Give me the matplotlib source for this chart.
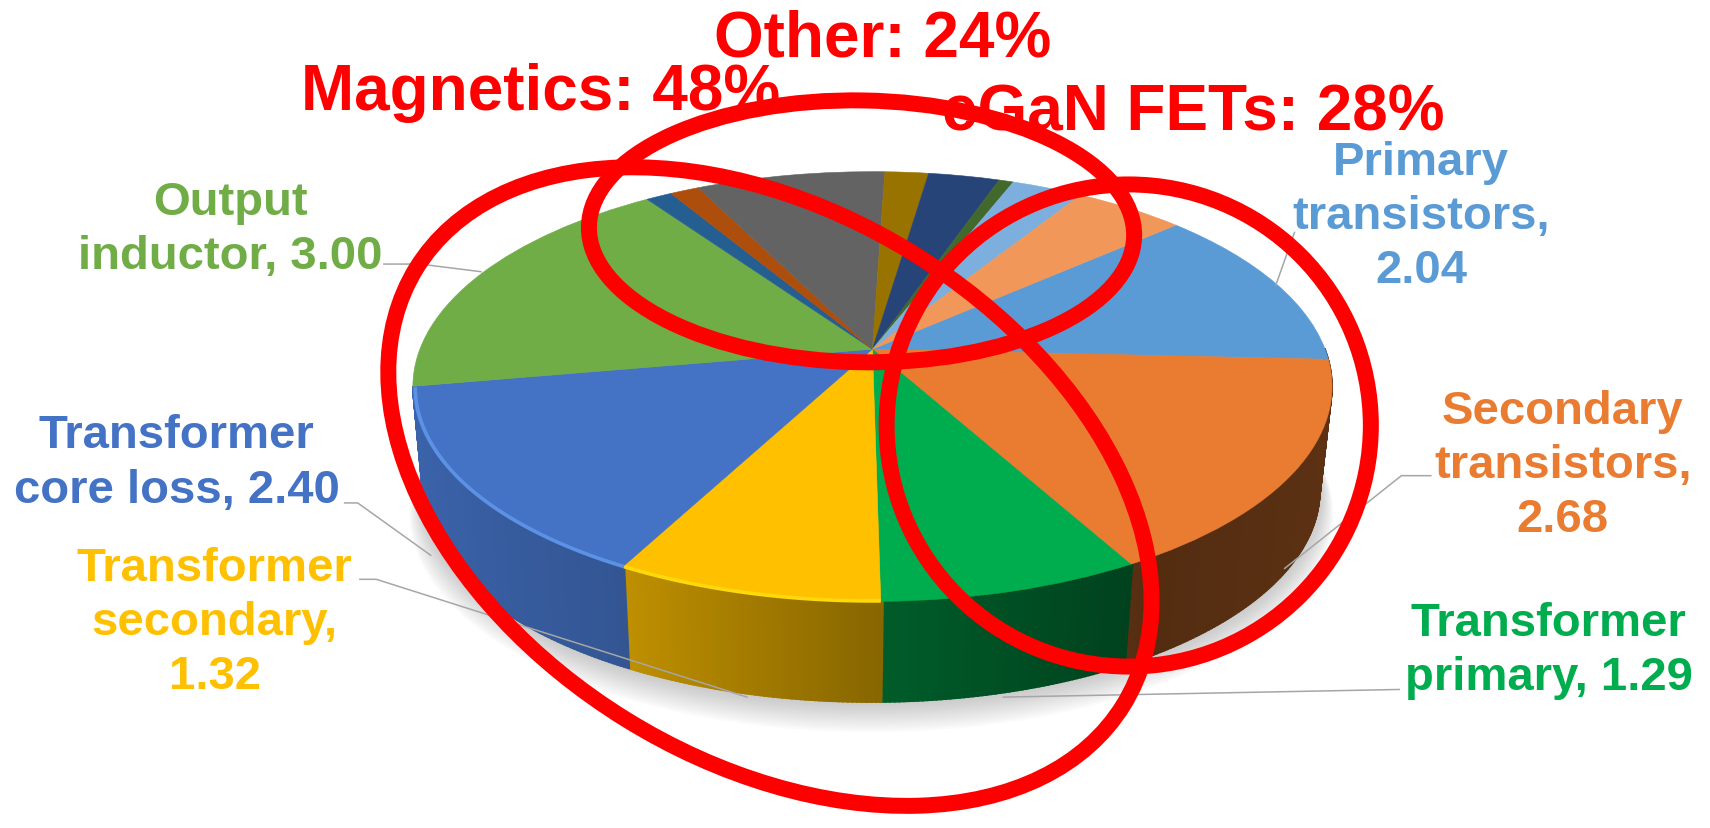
import numpy as np
import matplotlib
matplotlib.use("Agg")
import matplotlib.pyplot as plt
from matplotlib.patches import Ellipse
from matplotlib.transforms import Transform

# ---------- data ----------
slice_names = ["Primary transistors", "Secondary transistors", "Transformer primary",
               "Transformer secondary", "Transformer core loss", "Output inductor",
               "Other 1", "Other 2", "Other 3", "Other 4", "Other 5", "Other 6", "Other 7", "Other 8"]
slice_values = [2.04, 2.68, 1.29, 1.32, 2.40, 3.00, 0.18, 0.20, 1.30, 0.30, 0.49, 0.10, 0.49, 0.76]
slice_colors = ["#5B9BD5", "#E97C30", "#00AD4E", "#FFC000", "#4472C4", "#70AD47",
                "#255E91", "#AE4E0C", "#636363", "#997300", "#264478", "#43682B", "#7CAFDD", "#F1975A"]

label_texts = ["Primary\ntransistors,\n2.04", "Secondary\ntransistors,\n2.68", "Transformer\nprimary, 1.29",
               "Transformer\nsecondary,\n1.32", "Transformer\ncore loss, 2.40", "Output\ninductor, 3.00"]
label_x = [1303, 1433, 1420, 197, 162, 211]
label_y = [199, 427, 597, 571, 425, 211]

group_texts = ["Other: 24%", "Magnetics: 48%", "eGaN FETs: 28%"]
group_x = [809, 496, 1094]
group_y = [36, 85, 104]

leader_x = [[1187, 1170], [1312, 1285, 1178], [1283, 920], [330, 345, 685], [316, 328, 395], [352, 385, 441]]
leader_y = [[214, 262], [437, 437, 522], [633, 640], [532, 532, 640], [462, 462, 510], [243, 243, 250]]

# centre x, centre y, width, height, angle
ring_specs = [(790, 213, 500, 240, 1), (706, 447, 762, 502, 31.7), (1035, 391, 444, 442, 0)]

START_CLOCKWISE_FROM_TOP = 48.4


class Persp(Transform):
    input_dims = output_dims = 2
    is_separable = False
    has_inverse = False

    def __init__(self, cx, cy, a, b, k):
        super().__init__()
        self.p = (cx, cy, a, b, k)

    def transform_non_affine(self, xy):
        cx, cy, a, b, k = self.p
        xy = np.asarray(xy, float)
        u, v = xy[:, 0], -xy[:, 1]
        d = 1 - k * v
        return np.column_stack([cx + a * u / d, cy + b * v / d])


top = Persp(800, 321, 415, 191, 0.174)
bottom = Persp(799, 417, 405, 188, 0.174)

fig = plt.figure(figsize=(17.1, 8.29), dpi=100, facecolor="white")
ax = fig.add_axes([0, 0, 1, 1])
wedges, _ = ax.pie(slice_values, colors=slice_colors, startangle=90 - START_CLOCKWISE_FROM_TOP,
                   counterclock=False, radius=1)
ax.set_aspect("auto")
ax.set_xlim(0, 1568)
ax.set_ylim(760, 0)
ax.axis("off")


def rim(tr, deg, scale=1.0):
    t = np.radians(deg)
    return tr.transform_non_affine(np.column_stack([scale * np.cos(t), scale * np.sin(t)]))


# soft shadow below the disc
all_deg = np.linspace(0, 360, 240)
for i in range(14):
    pts = rim(bottom, all_deg, 1 + 0.0022 * i)
    ax.fill(pts[:, 0], pts[:, 1] + 1.5 * i, color="#777777", alpha=0.03, lw=0, zorder=1)

# side wall with shading that depends on the horizontal position
shade_u = [-1.0, -0.47, 0.0, 0.55, 1.0]
shade_m = [0.88, 0.75, 0.54, 0.36, 0.40]
wall_slices = [0, 1, 2, 3, 4]
for idx in wall_slices:
    w, col = wedges[idx], slice_colors[idx]
    base = np.array(matplotlib.colors.to_rgb(col))
    t1, t2 = w.theta1 % 360, w.theta2 % 360
    if t2 <= t1:
        t2 += 360
    lo, hi = max(t1, 180), min(t2, 360)
    if hi <= lo:
        lo, hi = max(t1, 540), min(t2, 720)
    if hi <= lo:
        continue
    n = max(3, int((hi - lo) * 2))
    edges = np.linspace(lo, hi, n + 1)
    for d0, d1 in zip(edges[:-1], edges[1:]):
        seg = np.linspace(d0, d1 + 0.25, 3)
        tp = rim(top, seg)
        bp = rim(bottom, seg)
        poly = np.vstack([tp, bp[::-1]])
        m = np.interp(np.cos(np.radians((d0 + d1) / 2)), shade_u, shade_m)
        c = np.clip(base * m, 0, 1)
        ax.fill(poly[:, 0], poly[:, 1], facecolor=c, edgecolor=c, lw=1.0, zorder=2)

# top surface: the pie's own wedges in perspective
for w, col in zip(wedges, slice_colors):
    w.set_transform(top + ax.transData)
    w.set_edgecolor(col)
    w.set_linewidth(0.4)
    w.set_zorder(3)
    w.set_clip_on(False)

# bevel highlight on the near-left rim
for idx, light in [(3, "#FFD90A"), (4, "#5C92E6")]:
    w = wedges[idx]
    deg = np.linspace(w.theta1, w.theta2, 60)
    deg = deg[(deg % 360 > 180) & (deg % 360 < 360)]
    p = rim(top, deg, 0.995)
    ax.plot(p[:, 0], p[:, 1] + 1, color=light, lw=2.6, zorder=3.5, solid_capstyle="butt")

# leader lines
for lx, ly in zip(leader_x, leader_y):
    ax.plot(lx, ly, color="#A6A6A6", lw=1.1, zorder=5)

# red rings
for cx, cy, wd, ht, ang in ring_specs:
    ax.add_patch(Ellipse((cx, cy), wd, ht, angle=ang, fill=False, ec="#FF0000", lw=11.5, zorder=6))

FONT = ["Liberation Sans", "DejaVu Sans"]
for s, x, y, col in zip(label_texts, label_x, label_y, slice_colors):
    ax.text(x, y, s, color=col, fontsize=34, fontweight="bold", family=FONT, ha="center", va="center",
            linespacing=1.3, zorder=7)
for s, x, y in zip(group_texts, group_x, group_y):
    ax.text(x, y, s, color="#FF0000", fontsize=46, fontweight="bold", family=FONT, ha="center", va="center",
            zorder=7)

fig.savefig("out.png", dpi=100, facecolor="white")
